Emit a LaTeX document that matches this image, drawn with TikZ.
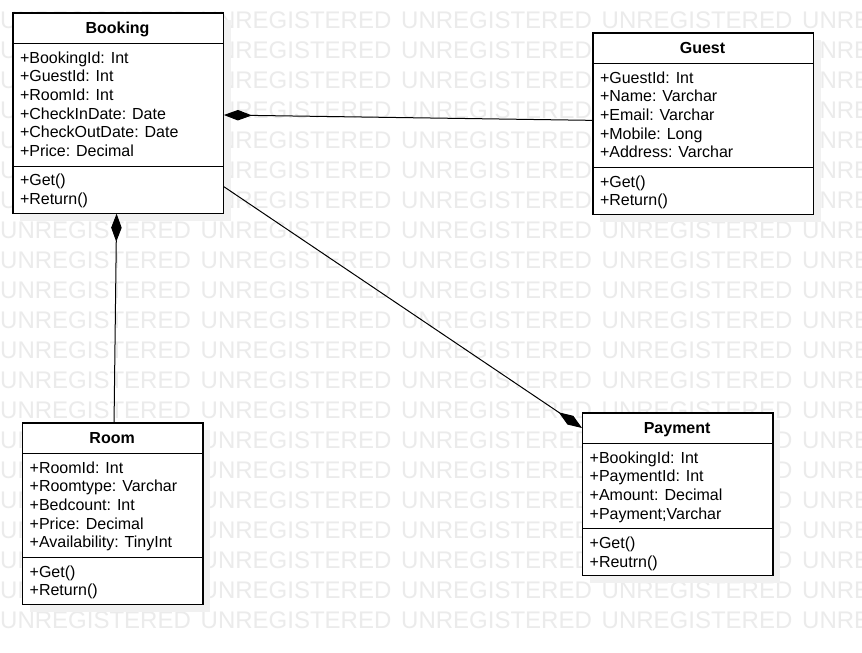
\documentclass[tikz,border=0pt]{standalone}
\usepackage{fontspec}
\setmainfont{Liberation Sans}
\usetikzlibrary{arrows.meta,calc}

\definecolor{wmgray}{RGB}{235,235,235}
\definecolor{shadowgray}{RGB}{241,241,241}

\tikzset{
  classbox/.style={draw=black, fill=white, line width=1.2pt, inner sep=0pt},
  classrule/.style={draw=black, line width=1.2pt},
  titletext/.style={font=\fontsize{16}{16}\selectfont\bfseries, inner sep=0pt},
  membertext/.style={font=\fontsize{16}{16}\selectfont, inner sep=0pt, anchor=base west},
  boxshadow/.style={fill=shadowgray},
  wmtext/.style={font=\fontsize{24}{24}\selectfont, text=wmgray, inner sep=0pt, anchor=base west},
  assoc/.style={draw=black, line width=1pt},
  comp/.tip={Diamond[length=28pt,width=10.5pt]},
}

% \umlclass{id}{x}{y}{width}{title}{attributes}{operations}
\newcommand\umlclass[7]{%
  \foreach \m [count=\k] in {#6} {\xdef\attrcount{\k}}%
  \foreach \m [count=\k] in {#7} {\xdef\opcount{\k}}%
  \pgfmathsetmacro\ruleA{#3+31}%
  \pgfmathsetmacro\ruleB{#3+50.7+(\attrcount-1)*18.7+9.7}%
  \pgfmathsetmacro\boxh{\ruleB+19.6+(\opcount-1)*18.7+8-(#3)}%
  \fill[boxshadow] (#2+8,#3+8) rectangle ++(#4,\boxh);
  \node[classbox, minimum width=#4pt, minimum height=\boxh pt, anchor=north west] (#1) at (#2,#3) {};
  \node[titletext, anchor=base] (#1-title) at (#2+#4/2,#3+21) {#5};
  \draw[classrule] (#2,\ruleA) -- ++(#4,0);
  \draw[classrule] (#2,\ruleB) -- ++(#4,0);
  \foreach \m [count=\k] in {#6}
    \node[membertext] (#1-attr\k) at (#2+7.5,#3+50.7+\k*18.7-18.7) {\m};
  \foreach \m [count=\k] in {#7}
    \node[membertext] (#1-op\k) at (#2+7.5,\ruleB+19.6+\k*18.7-18.7) {\m};
}

\begin{document}
\begin{tikzpicture}[x=1pt,y=-1pt]
  \useasboundingbox (0,0) rectangle (862,653);
  \fill[white] (0,0) rectangle (862,653);

  % licence watermark rows
  \begin{scope}
    \clip (0,0) rectangle (862,653);
    \foreach \r in {0,...,20}
      \foreach \c in {0,...,4}
        \node[wmtext] (wm-\r-\c) at (200.5*\c,28+30*\r) {UNREGISTERED};
  \end{scope}

  % classes
  \umlclass{booking}{12.3}{12.3}{210.4}{Booking}
    {+BookingId: Int,+GuestId: Int,+RoomId: Int,+CheckInDate: Date,+CheckOutDate: Date,+Price: Decimal}
    {+Get(),+Return()}
  \umlclass{guest}{592.3}{32.3}{220.4}{Guest}
    {+GuestId: Int,+Name: Varchar,+Email: Varchar,+Mobile: Long,+Address: Varchar}
    {+Get(),+Return()}
  \umlclass{room}{22}{422.3}{180.3}{Room}
    {+RoomId: Int,+Roomtype: Varchar,+Bedcount: Int,+Price: Decimal,+Availability: TinyInt}
    {+Get(),+Return()}
  \umlclass{payment}{582}{412.3}{190.3}{Payment}
    {+BookingId: Int,+PaymentId: Int,+Amount: Decimal,+Payment;Varchar}
    {+Get(),+Reutrn()}

  % compositions
  \draw[assoc, {comp}-] ([yshift=-2pt]booking.east) -- ([yshift=3.3pt]guest.west);
  \draw[assoc, {comp}-] ([xshift=-1.5pt]booking.south) -- ([xshift=1.3pt]room.north);
  \draw[assoc, -{comp}] ([yshift=27pt]booking.south east) -- ([yshift=-15.7pt]payment.north west);
\end{tikzpicture}
\end{document}
